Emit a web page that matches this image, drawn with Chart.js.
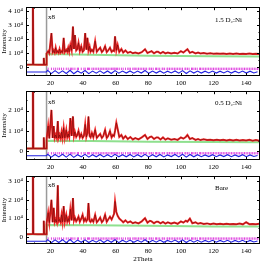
<!DOCTYPE html>
<html><head><meta charset="utf-8">
<script src="https://cdn.jsdelivr.net/npm/chart.js@4/dist/chart.umd.min.js"></script>
<style>
html,body{margin:0;padding:0;background:#fff;width:265px;height:266px;overflow:hidden;}
canvas{position:absolute;left:0;}
</style></head><body>
<canvas id="c1" style="top:0px"></canvas>
<canvas id="c2" style="top:84px"></canvas>
<canvas id="c3" style="top:169px"></canvas>
<script>
// 2Theta positions of the profile points (deg)
const twoTheta = [
  5, 8.85, 9.2, 9.55, 12, 15.6, 15.9, 16.2, 17.55, 17.65,
  18.6, 19.3, 20.6, 21.3, 22.0, 22.6, 23.2, 23.8, 24.5, 25.0,
  25.6, 26.2, 26.8, 27.4, 28.1, 28.8, 29.7, 30.3, 30.9, 31.5,
  32.2, 33.0, 33.8, 34.4, 35.0, 35.8, 36.5, 37.2, 38.0, 38.9,
  39.7, 40.5, 41.3, 42.0, 42.7, 43.3, 44.0, 44.6, 45.4, 46.3,
  47.4, 48.4, 49.4, 50.5, 51.5, 52.4, 53.5, 54.5, 55.4, 56.5,
  57.5, 58.3, 59.0, 59.6, 60.4, 61.2, 62.2, 63.5, 64.6, 66.0,
  67.4, 69.0, 70.5, 72, 74, 76, 78, 79.5, 81, 82,
  83.5, 85, 86, 87.5, 89, 90.5, 92, 94, 96, 98,
  100, 101.5, 103, 104, 105.5, 107, 109, 110.5, 112, 114,
  116, 118, 120, 122, 124, 126, 128, 130, 132, 134,
  136, 138, 140, 142, 144, 146, 148
];
// plotted intensities (counts; above 17.6 deg the data are shown x8)
const obs15 = [
  1900, 2000, 60000, 2000, 1900, 1900, 6700, 1900, 1900, 9800,
  11500, 10000, 24300, 10500, 12000, 10300, 14000, 10500, 11500, 10300,
  13000, 10400, 11500, 10600, 20900, 10800, 12500, 11000, 14000, 11000,
  16000, 12000, 29000, 13000, 23000, 12000, 13000, 17500, 11500, 15000,
  11000, 12000, 24300, 12500, 21000, 12000, 15000, 11000, 12500, 11000,
  18600, 11000, 12500, 14000, 10800, 12000, 15000, 10800, 12000, 14000,
  11000, 12000, 11500, 22000, 12000, 16000, 10800, 13000, 10500, 12000,
  10300, 11000, 10000, 10500, 9800, 10800, 12900, 10200, 11000, 11500,
  10000, 11000, 11000, 10000, 11000, 9900, 10500, 9800, 10300, 9800,
  11500, 10500, 12000, 12900, 10300, 11000, 9900, 10500, 9800, 10200,
  9700, 10000, 9600, 9900, 9600, 9800, 9500, 9800, 9500, 9900,
  9500, 9700, 9500, 9800, 9400, 9700, 9400
];
const obs05 = [
  1300, 1400, 60000, 1400, 1300, 1300, 6800, 1300, 1300, 6000,
  12400, 6300, 20300, 6500, 12400, 6500, 8000, 6500, 14800, 6500,
  8000, 6400, 9500, 6500, 11600, 6500, 10500, 6800, 8500, 7000,
  16300, 7500, 17100, 7500, 9500, 7000, 8000, 10000, 6800, 8500,
  6500, 7500, 13200, 7000, 9000, 17100, 7500, 6800, 9000, 6800,
  10500, 6500, 7500, 8500, 6500, 7500, 10500, 6500, 7500, 10000,
  6800, 8000, 7500, 10000, 14000, 11000, 7000, 8000, 6200, 7500,
  6000, 7000, 5800, 6500, 5800, 6800, 8000, 6000, 7000, 7200,
  6000, 6800, 6800, 5800, 6800, 5700, 6300, 5700, 6000, 5600,
  6800, 6200, 7000, 8000, 6000, 6500, 5600, 6000, 5500, 5900,
  5500, 5700, 5400, 5700, 5400, 5600, 5300, 5600, 5300, 5600,
  5300, 5500, 5300, 5600, 5200, 5500, 5200
];
const obsBare = [
  1600, 1700, 60000, 1700, 1600, 1600, 8800, 1600, 1600, 7600,
  13100, 7800, 20000, 8000, 15700, 8000, 9500, 8000, 27800, 8500,
  9500, 8000, 12000, 8200, 16600, 8200, 12000, 8300, 10000, 8500,
  15000, 9000, 20900, 9000, 10500, 8500, 9500, 11000, 8300, 10000,
  12000, 8500, 10000, 8500, 9500, 18300, 8800, 8200, 9500, 8200,
  12000, 8000, 9000, 10500, 8000, 9000, 12000, 8200, 9500, 11000,
  9500, 11000, 12500, 19100, 13500, 11500, 10000, 9000, 8000, 9000,
  7800, 8500, 7500, 8000, 7400, 8500, 10200, 7800, 8800, 8500,
  7500, 8300, 8300, 7400, 8200, 7300, 8000, 7300, 7800, 7200,
  8500, 7800, 8800, 8300, 10000, 7500, 8000, 7200, 7600, 7100,
  7400, 7000, 7300, 7000, 7200, 6900, 7200, 7000, 7100, 6900,
  7300, 6900, 8000, 7000, 7100, 6900, 7200
];
// background curves
const bgTheta = [5, 17.6, 17.6, 45, 80, 120, 148.5];
const bg15   = [1900, 1900, 9400, 8900, 8300, 7900, 7600];
const bg05   = [1300, 1300, 5200, 5000, 4700, 4500, 4400];
const bgBare = [1600, 1600, 6600, 6400, 6100, 5800, 5700];
// difference curves (offset below zero)
const diffTheta = [
  5, 17.5, 18.3, 20.5, 22.8, 25.1, 27.4, 29.7, 32, 34.3, 36.6, 38.9,
  41.2, 43.5, 45.8, 48.1, 50.4, 52.7, 55, 57.3, 59.6, 61.9,
  64.2, 66.5, 68.8, 71.1, 73.4, 75.7, 78, 80.3, 82.6, 84.9,
  87.2, 89.5, 91.8, 94.1, 96.4, 98.7, 101, 103.3, 105.6, 107.9,
  110.2, 112.5, 114.8, 117.1, 119.4, 121.7, 124, 126.3, 128.6, 130.9,
  133.2, 135.5, 137.8, 140.1, 142.4, 144.7, 147
];
const diff15 = [
  -3300, -3300, -2200, -4500, -2400, -4300, -2500, -4400, -2100, -4600, -2600, -4200,
  -2300, -4500, -2700, -4200, -2500, -4300, -2600, -4400, -2400, -4200,
  -2700, -4100, -2600, -4200, -2700, -4100, -2300, -4300, -2700, -4100,
  -2600, -4200, -2800, -4000, -2600, -4200, -2400, -4400, -2500, -4100,
  -2700, -4100, -2800, -4000, -2700, -4100, -2800, -4000, -2700, -4100,
  -2800, -4000, -2700, -4100, -2800, -4000, -3200
];
const diff05 = [
  -2200, -2200, -1500, -2900, -1600, -2800, -1500, -2900, -1400, -3000, -1700, -2700,
  -1500, -2900, -1700, -2700, -1600, -2800, -1700, -2800, -1500, -2700,
  -1700, -2700, -1600, -2800, -1700, -2700, -1500, -2800, -1700, -2700,
  -1600, -2800, -1800, -2600, -1600, -2800, -1500, -2900, -1600, -2700,
  -1700, -2700, -1800, -2600, -1700, -2700, -1800, -2600, -1700, -2700,
  -1800, -2600, -1700, -2700, -1800, -2600, -2100
];
const diffBare = [
  -2100, -2100, -1300, -2900, -1400, -2800, -1300, -2900, -1200, -3000, -1500, -2700,
  -1400, -2800, -1600, -2600, -1400, -2800, -1500, -2700, -1300, -2900,
  -1600, -2600, -1500, -2700, -1600, -2600, -1300, -2800, -1600, -2600,
  -1500, -2700, -1700, -2500, -1500, -2700, -1400, -2800, -1500, -2600,
  -1600, -2600, -1700, -2500, -1600, -2600, -1700, -2500, -1600, -2600,
  -1700, -2500, -1600, -2600, -1700, -2500, -2000
];
// reflection positions (deg)
const reflTheta = [
  18.6, 20.6, 22.0, 23.2, 24.5, 25.6, 26.8, 28.1, 29.7, 30.9, 32.2, 33.0, 33.8, 35.0,
  36.5, 37.2, 38.9, 40.5, 41.3, 42.7, 43.3, 44.0, 45.4, 46.3, 47.4, 48.4, 49.4, 50.5,
  51.5, 52.4, 53.5, 54.5, 55.4, 56.5, 57.5, 58.3, 59.0, 59.6, 60.4, 61.2, 62.2, 63.5,
  64.6, 66.0, 67.4, 68.2, 69.0, 70.5, 71.3, 72.0, 73.0, 74.0, 75.0, 76.0, 77.0, 78.0,
  79.0, 80.5, 81.0, 82.0, 83.0, 84.5, 85.0, 86.0, 87.0, 88.5, 89.0, 90.0, 91.5, 92.0,
  93.0, 94.0, 95.0, 96.0, 97.0, 98.0, 99.0, 100.0, 101.0, 102.5, 103.0, 104.0, 105.0,
  106.5, 107.0, 108.0, 109.0, 110.0, 111.5, 112.0, 113.0, 114.0, 115.0, 116.0, 117.0,
  118.0, 119.0, 120.0, 121.0, 122.0, 123.0, 124.0, 125.0, 126.0, 127.0, 128.0, 129.0,
  130.0, 131.0, 132.0, 133.0, 134.0, 135.0, 136.0, 137.0, 138.0, 139.0, 140.0, 141.0,
  142.0, 143.0, 144.0, 145.0, 146.0, 147.0, 148.0
];
const switchTheta = 17.6;            // data above this angle are scaled x8
const scaleLabel = 'x8';
const panelNames = ['1.5 D\u2082:Ni', '0.5 D\u2082:Ni', 'Bare'];
const xTicks = [20, 40, 60, 80, 100, 120, 140];
const yTicks15 = [0, 10000, 20000, 30000, 40000];
const yTicks05 = [0, 10000, 20000];
const yTicksBare = [0, 10000, 20000, 30000];

const FONT = 'Liberation Serif';
[obs15, obs05, obsBare].forEach(a => { if (a.length !== twoTheta.length) throw new Error('len ' + a.length + ' vs ' + twoTheta.length); });
[diff15, diff05, diffBare].forEach(a => { if (a.length !== diffTheta.length) throw new Error('diff len ' + a.length + ' vs ' + diffTheta.length); });

const pts = (xs, ys) => xs.map((x, i) => ({x, y: ys[i]}));

const framePlugin = {
  id: 'frame',
  afterDraw(chart, args, o) {
    const {ctx, chartArea: a, scales: {x, y}} = chart;
    ctx.save();
    ctx.strokeStyle = '#000';
    ctx.lineWidth = 1;
    ctx.beginPath();
    for (let v = 10; v <= 148; v += 10) {
      const px = Math.round(x.getPixelForValue(v)) + 0.5;
      const len = v % 20 === 0 ? 3 : 1.5;
      ctx.moveTo(px, a.bottom); ctx.lineTo(px, a.bottom - len);
      ctx.moveTo(px, a.top); ctx.lineTo(px, a.top + len);
    }
    const yt = o.yTicks;
    const half = (yt[1] - yt[0]) / 2;
    for (let v = 0; v <= y.max; v += half) {
      const py = Math.round(y.getPixelForValue(v)) + 0.5;
      const len = yt.includes(v) ? 3 : 1.5;
      ctx.moveTo(a.left, py); ctx.lineTo(a.left + len, py);
      ctx.moveTo(a.right, py); ctx.lineTo(a.right - len, py);
    }
    ctx.stroke();
    ctx.strokeRect(Math.round(a.left) + 0.5, Math.round(a.top) + 0.5,
                   Math.round(a.right - a.left) - 1, Math.round(a.bottom - a.top) - 1);
    ctx.fillStyle = '#000';
    ctx.font = '7px "' + FONT + '"';
    ctx.textBaseline = 'middle';
    ctx.textAlign = 'left';
    ctx.fillText(scaleLabel, a.left + 22, a.top + o.x8y);
    ctx.fillText(o.name, a.left + 189, a.top + o.ny);
    ctx.restore();
  }
};

function makePanel(id, cssH, xAxisH, obs, bg, diff, yMin, yMax, yTicks, reflY, name, ny, x8y, showTitle) {
  const cv = document.getElementById(id);
  cv.width = 265; cv.height = cssH;
  cv.style.width = '265px'; cv.style.height = cssH + 'px';
  return new Chart(cv, {
    type: 'scatter',
    data: {
      datasets: [
        {data: pts(twoTheta, obs), showLine: true, borderColor: '#5a0000', borderWidth: 0.5, pointRadius: 0, order: 1},
        {data: pts(twoTheta, obs), showLine: true, borderColor: '#f02a2a', borderWidth: 2, pointRadius: 0, order: 2},
        {data: pts(diffTheta, diff), showLine: true, borderColor: '#1f1fe0', borderWidth: 1.1, pointRadius: 0, order: 3},
        {data: reflTheta.map(t => ({x: t, y: reflY})), showLine: false, pointStyle: 'line', rotation: 90,
         pointRadius: 1.2, borderColor: '#e044e0', borderWidth: 1, order: 4},
        {data: pts(bgTheta, bg), showLine: true, borderColor: '#8fe08f', borderWidth: 2, pointRadius: 0, order: 5},
        {data: [{x: switchTheta, y: yMin}, {x: switchTheta, y: yMax}], showLine: true, borderColor: '#9a9a9a',
         borderWidth: 1.5, pointRadius: 0, order: 6}
      ]
    },
    options: {
      responsive: false, animation: false, events: [],
      layout: {padding: {top: 5, right: 4, left: 0, bottom: 0}},
      plugins: {legend: {display: false}, tooltip: {enabled: false},
                frame: {name, ny, x8y, yTicks}},
      scales: {
        x: {type: 'linear', min: 5, max: 148.5,
            grid: {display: false, drawTicks: false}, border: {display: false},
            ticks: {padding: 3, color: '#000', maxRotation: 0,
                    autoSkip: false, font: {family: FONT, size: 7}},
            afterBuildTicks(s) { s.ticks = xTicks.map(v => ({value: v})); },
            title: {display: showTitle, text: '2Theta', color: '#000', font: {family: FONT, size: 7},
                    padding: {top: 0, bottom: 3}},
            afterFit(s) { s.height = xAxisH; }},
        y: {type: 'linear', min: yMin, max: yMax,
            grid: {display: false, drawTicks: false}, border: {display: false},
            ticks: {padding: 3, color: '#000', autoSkip: false,
                    font: {family: FONT, size: 7},
                    callback: v => v === 0 ? '0' : (v / 10000) + ' 10\u2074'},
            afterBuildTicks(s) { s.ticks = yTicks.map(v => ({value: v})); },
            title: {display: true, text: 'Intensity', color: '#000', font: {family: FONT, size: 7},
                    padding: {top: 0, bottom: 0}},
            afterFit(s) { s.width = 26; }}
      }
    },
    plugins: [framePlugin]
  });
}

makePanel('c1', 88, 12, obs15, bg15, diff15, -6200, 42800, yTicks15, -1100, panelNames[0], 13, 10, false);
makePanel('c2', 88, 12, obs05, bg05, diff05, -4300, 29500, yTicks05, -1000, panelNames[1], 12, 10.5, false);
makePanel('c3', 97, 22, obsBare, bgBare, diffBare, -3600, 32600, yTicksBare, -700, panelNames[2], 11.5, 9, true);
</script>
</body></html>
